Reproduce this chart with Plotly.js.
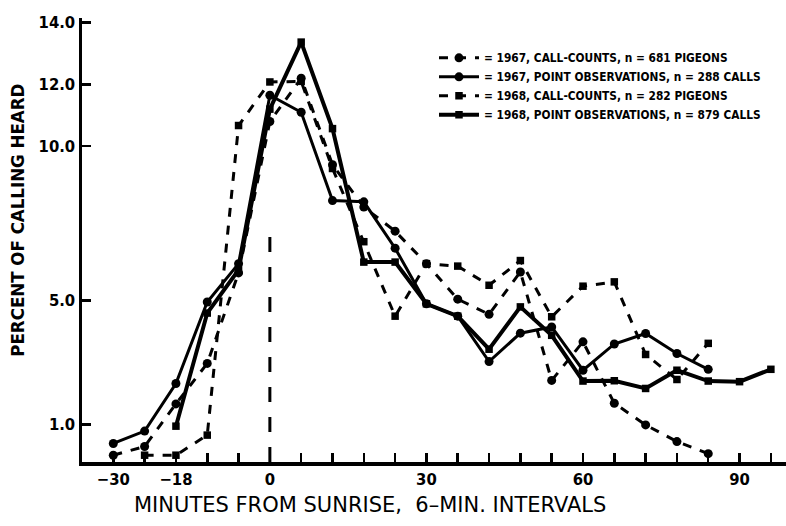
<!DOCTYPE html>
<html>
<head>
<meta charset="utf-8">
<script src="https://cdn.plot.ly/plotly-3.0.1.min.js"></script>
<style>
  html, body { margin: 0; padding: 0; background: #fff; }
  #chart { width: 786px; height: 526px; }
</style>
</head>
<body>
<div id="chart"></div>
<script>
// Minutes from sunrise, in 6-minute intervals
const minutes = [-30, -24, -18, -12, -6, 0, 6, 12, 18, 24, 30, 36, 42, 48, 54, 60, 66, 72, 78, 84, 90, 96];

// Percent of calling heard in each interval (null = no observation)
const callCounts1967 = [0.0, 0.28, 1.66, 2.97, 5.9, 10.8, 12.2, 9.4, 8.03, 7.25, 6.2, 5.05, 4.56, 5.93, 2.42, 3.67, 1.68, 0.98, 0.44, 0.05, null, null];
const pointObs1967   = [0.38, 0.78, 2.32, 4.96, 6.2, 11.65, 11.1, 8.24, 8.2, 6.7, 4.9, 4.5, 3.03, 3.95, 4.15, 2.75, 3.6, 3.94, 3.29, 2.78, null, null];
const callCounts1968 = [null, 0.0, 0.0, 0.65, 10.67, 12.08, 12.1, 9.28, 6.91, 4.5, 6.2, 6.12, 5.5, 6.3, 4.48, 5.47, 5.61, 3.26, 2.45, 3.62, null, null];
const pointObs1968   = [null, null, 0.94, 4.6, 6.0, 11.2, 13.37, 10.57, 6.25, 6.25, 4.9, 4.5, 3.43, 4.8, 3.88, 2.4, 2.41, 2.16, 2.75, 2.4, 2.38, 2.78];

// Legend labels
const seriesNames = [
  "= 1967, CALL-COUNTS, n = 681 PIGEONS",
  "= 1967, POINT OBSERVATIONS, n = 288 CALLS",
  "= 1968, CALL-COUNTS, n = 282 PIGEONS",
  "= 1968, POINT OBSERVATIONS, n = 879 CALLS"
];

// Axis ticks
const xTickVals = [-30, -24, -18, -12, -6, 0, 6, 12, 18, 24, 30, 36, 42, 48, 54, 60, 66, 72, 78, 84, 90, 96];
const xTickText = ["\u221230", "", "\u221218", "", "", "0", "", "", "", "", "30", "", "", "", "", "60", "", "", "", "", "90", ""];
const yTickVals = [1, 5, 10, 12, 14];
const yTickText = ["1.0", "5.0", "10.0", "12.0", "14.0"];

const INK = "#000000";
const COND = "DejaVu Sans Condensed, DejaVu Sans, sans-serif";
const tickFont = { family: COND, size: 16.5, color: INK, weight: 700 };

function series(y, name, dash, symbol, width, msize) {
  return {
    x: minutes, y: y, name: name, type: "scatter", mode: "lines+markers",
    connectgaps: false,
    line: { color: INK, width: width, dash: dash },
    marker: { color: INK, symbol: symbol, size: msize }
  };
}

const traces = [
  series(callCounts1967, seriesNames[0], "dash", "circle", 3, 9),
  series(pointObs1967,   seriesNames[1], "solid", "circle", 3, 9),
  series(callCounts1968, seriesNames[2], "dash", "square", 3, 7.5),
  series(pointObs1968,   seriesNames[3], "solid", "square", 4, 7.5)
];

const layout = {
  width: 786, height: 526,
  margin: { l: 82, r: 0, t: 17.5, b: 64, pad: 0 },
  paper_bgcolor: "#ffffff", plot_bgcolor: "#ffffff",
  showlegend: true,
  legend: {
    x: 0.50, y: 0.943, xanchor: "left", yanchor: "top",
    bgcolor: "rgba(255,255,255,0)", borderwidth: 0,
    font: { family: COND, size: 11.8, color: INK, weight: 700 },
    itemwidth: 40, tracegroupgap: 0
  },
  xaxis: {
    range: [-36, 98.9], showgrid: false, zeroline: false,
    showline: true, linecolor: INK, linewidth: 3.5,
    tickmode: "array", tickvals: xTickVals, ticktext: xTickText,
    ticks: "inside", ticklen: 9, tickwidth: 2.5, tickcolor: INK,
    tickfont: tickFont
  },
  yaxis: {
    range: [-0.22, 14.15], showgrid: false, zeroline: false,
    showline: true, linecolor: INK, linewidth: 3.5,
    tickmode: "array", tickvals: yTickVals, ticktext: yTickText,
    ticks: "inside", ticklen: 9, tickwidth: 2.5, tickcolor: INK,
    tickfont: tickFont
  },
  shapes: [
    // sunrise marker
    { type: "line", xref: "x", yref: "y", x0: 0, x1: 0, y0: -0.22, y1: 7.1,
      line: { color: INK, width: 3, dash: "longdash" } }
  ],
  annotations: [
    { text: "PERCENT OF CALLING HEARD", xref: "paper", yref: "paper",
      x: -0.092, y: 0.544, xanchor: "center", yanchor: "middle", textangle: -90, showarrow: false,
      font: { family: COND, size: 18.5, color: INK, weight: 700 } },
    { text: "MINUTES FROM SUNRISE,  6\u2013MIN. INTERVALS", xref: "paper", yref: "paper",
      x: 0.409, y: -0.066, xanchor: "center", yanchor: "top", showarrow: false,
      font: { family: "DejaVu Sans, sans-serif", size: 21, color: INK } }
  ]
};

Plotly.newPlot("chart", traces, layout, { displayModeBar: false, staticPlot: true });
</script>
</body>
</html>
